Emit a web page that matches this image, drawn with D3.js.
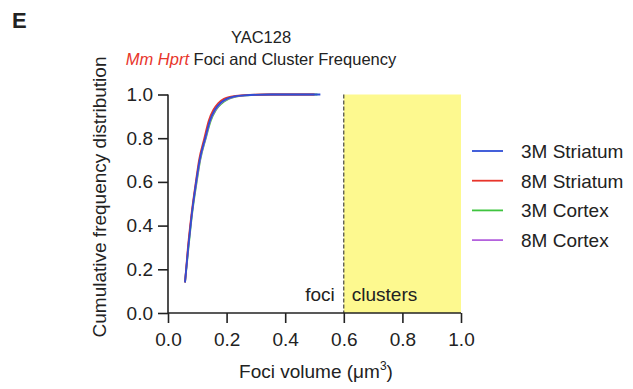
<!DOCTYPE html>
<html>
<head>
<meta charset="utf-8">
<script src="https://cdn.jsdelivr.net/npm/d3@7"></script>
<style>
  body { margin: 0; background: #fff; }
  text { font-family: Arial, "Liberation Sans", sans-serif; fill: #222; }
</style>
</head>
<body>
<svg id="chart" width="633" height="389"></svg>
<script>
// cumulative levels shared by all series
const cumLevels = [0.14, 0.3, 0.45, 0.6, 0.7, 0.8, 0.88, 0.93, 0.96, 0.98, 0.99, 0.996, 1.0, 1.0];
// foci volume at each level
const striatum3M = [0.058, 0.069, 0.081, 0.096, 0.108, 0.127, 0.143, 0.160, 0.178, 0.200, 0.224, 0.26, 0.35, 0.52];
const striatum8M = [0.058, 0.068, 0.080, 0.095, 0.106, 0.124, 0.139, 0.155, 0.171, 0.191, 0.215, 0.25, 0.34, 0.50];
const cortex3M   = [0.058, 0.070, 0.082, 0.098, 0.110, 0.129, 0.146, 0.164, 0.184, 0.207, 0.232, 0.27, 0.36, 0.51];
const cortex8M   = [0.058, 0.069, 0.081, 0.097, 0.109, 0.128, 0.144, 0.162, 0.180, 0.203, 0.228, 0.265, 0.355, 0.50];

const seriesNames = ["3M Striatum", "8M Striatum", "3M Cortex", "8M Cortex"];
const seriesColors = ["#2f4fd6", "#e8352b", "#3fc43f", "#b462dd"];
const seriesValues = [striatum3M, striatum8M, cortex3M, cortex8M];
const xTicks = [0, 0.2, 0.4, 0.6, 0.8, 1.0];
const yTicks = [0, 0.2, 0.4, 0.6, 0.8, 1.0];
const clusterCut = 0.6;

let svg = d3.select('#chart');
let x = d3.scaleLinear().domain([0, 1]).range([168, 461]);
let y = d3.scaleLinear().domain([0, 1]).range([313, 94.5]);

// clusters region
svg.append('rect')
    .attr('x', x(clusterCut)).attr('y', y(1))
    .attr('width', x(1) - x(clusterCut)).attr('height', y(0) - y(1))
    .attr('fill', '#fdf98f');
svg.append('line')
    .attr('x1', x(clusterCut)).attr('x2', x(clusterCut))
    .attr('y1', y(1)).attr('y2', y(0))
    .attr('stroke', '#222').attr('stroke-width', 1)
    .attr('stroke-dasharray', '4,2');

svg.append('text').attr('x', x(clusterCut) - 9).attr('y', 301)
    .attr('text-anchor', 'end').attr('font-size', '19px').text('foci');
svg.append('text').attr('x', x(clusterCut) + 8).attr('y', 301)
    .attr('font-size', '19px').text('clusters');

// curves, drawn so blue ends on top
let line = d3.line()
    .x(d => x(d[0])).y(d => y(d[1]))
    .curve(d3.curveMonotoneX);
let order = [2, 3, 1, 0];
order.forEach(i => {
    let pts = seriesValues[i].map((v, k) => [v, cumLevels[k]]);
    svg.append('path')
        .attr('d', line(pts))
        .attr('fill', 'none')
        .attr('stroke', seriesColors[i])
        .attr('stroke-width', 1.8);
});

// axes
let xAxis = svg.append('g')
    .attr('transform', `translate(0,${y(0)})`)
    .call(d3.axisBottom(x).tickValues(xTicks).tickFormat(d3.format('.1f')).tickSize(10).tickPadding(10));
let yAxis = svg.append('g')
    .attr('transform', `translate(${x(0)},0)`)
    .call(d3.axisLeft(y).tickValues(yTicks).tickFormat(d3.format('.1f')).tickSize(10).tickPadding(5));
[xAxis, yAxis].forEach(a => {
    a.select('.domain').attr('stroke', '#222').attr('stroke-width', 1.6);
    a.selectAll('.tick line').attr('stroke', '#222').attr('stroke-width', 1.6);
    a.selectAll('.tick text').attr('font-size', '19px').attr('fill', '#222')
        .attr('font-family', 'Arial, "Liberation Sans", sans-serif');
});
xAxis.select('.domain').attr('d', `M${x(0)},0H${x(1)}`);
yAxis.select('.domain').attr('d', `M0,${y(0)}V${y(1)}`);

// titles
svg.append('text').attr('x', 12).attr('y', 28)
    .attr('font-size', '22px').attr('font-weight', 'bold').text('E');
svg.append('text').attr('x', 261).attr('y', 43)
    .attr('text-anchor', 'middle').attr('font-size', '16.5px').text('YAC128');
let t2 = svg.append('text').attr('x', 261).attr('y', 65)
    .attr('text-anchor', 'middle').attr('font-size', '16.5px');
t2.append('tspan').attr('fill', '#e8352b').attr('font-style', 'italic').text('Mm Hprt');
t2.append('tspan').text(' Foci and Cluster Frequency');

svg.append('text')
    .attr('transform', `translate(106,197) rotate(-90)`)
    .attr('text-anchor', 'middle').attr('font-size', '19px')
    .text('Cumulative frequency distribution');

let xl = svg.append('text').attr('x', 316).attr('y', 378)
    .attr('text-anchor', 'middle').attr('font-size', '19px');
xl.append('tspan').text('Foci volume (');
xl.append('tspan').text('μ');
xl.append('tspan').text('m');
xl.append('tspan').attr('font-size', '12px').attr('dy', -8).text('3');
xl.append('tspan').attr('dy', 8).text(')');

// legend
let legend = svg.append('g');
seriesNames.forEach((name, i) => {
    let ly = 151 + i * 29.7;
    legend.append('line')
        .attr('x1', 472).attr('x2', 503).attr('y1', ly).attr('y2', ly)
        .attr('stroke', seriesColors[i]).attr('stroke-width', 1.8);
    legend.append('text')
        .attr('x', 521).attr('y', ly + 7)
        .attr('font-size', '19px').text(name);
});
</script>
</body>
</html>
